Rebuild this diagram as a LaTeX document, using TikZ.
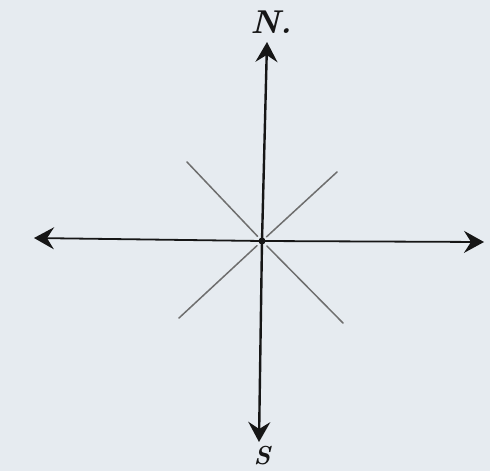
\documentclass[tikz,border=0pt]{standalone}
\usetikzlibrary{arrows.meta,calc}
\definecolor{bgc}{RGB}{230,235,240}
\definecolor{axc}{RGB}{22,22,22}
\definecolor{diagc}{RGB}{110,110,110}
\begin{document}
\begin{tikzpicture}[x=1pt,y=-1pt,
  axis/.style={draw=axc,line width=2.4pt,-{Stealth[length=20pt,width=22pt,inset=7pt]}},
  diag/.style={draw=diagc,line width=1.5pt,line cap=round},
  lbl/.style={text=axc,inner sep=0pt}]
\fill[bgc] (0,0) rectangle (490,471);
\useasboundingbox (0,0) rectangle (490,471);
\coordinate (O) at (262,241);
\coordinate (Ntip) at (267,42);
\coordinate (Stip) at (259,442);
\coordinate (Wtip) at (34,238);
\coordinate (Etip) at (484,242);
\coordinate (ul) at (187,162);
\coordinate (ur) at (337,172);
\coordinate (ll) at (179,318);
\coordinate (lr) at (343,323);
\draw[diag] ($(O)!0.06!(ul)$) -- (ul);
\draw[diag] ($(O)!0.06!(ur)$) -- (ur);
\draw[diag] ($(O)!0.06!(ll)$) -- (ll);
\draw[diag] ($(O)!0.06!(lr)$) -- (lr);
\draw[axis] (O) -- (Ntip);
\draw[axis] (O) -- (Stip);
\draw[axis,line width=1.8pt] (O) -- (Wtip);
\draw[axis,line width=1.8pt] (O) -- (Etip);
\fill[axc] (O) circle (3.5pt);
\node[lbl,font=\fontsize{33}{35}\selectfont\bfseries\itshape] (N) at (271,22) {N.};
\node[lbl,font=\fontsize{26}{28}\selectfont\bfseries\itshape] (S) at (262,456) {S};
\end{tikzpicture}
\end{document}
